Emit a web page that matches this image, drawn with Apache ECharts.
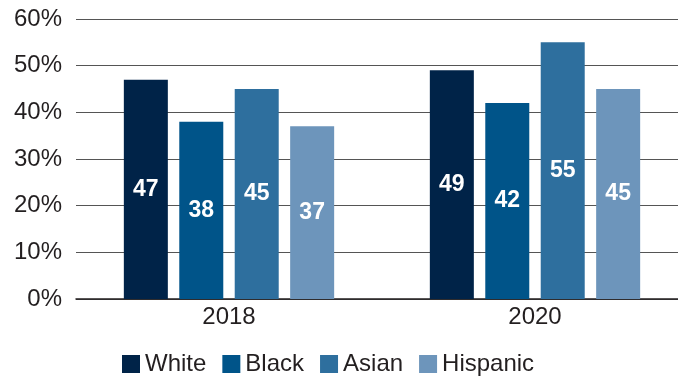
<!DOCTYPE html>
<html>
<head>
<meta charset="utf-8">
<script src="https://cdn.jsdelivr.net/npm/echarts@6/dist/echarts.min.js"></script>
<style>
  html, body { margin: 0; padding: 0; background: #fff; overflow: hidden; }
  /* canvas is a little wider than the window so the grid lines run off the right edge */
  #chart { width: 688px; height: 381px; }
</style>
</head>
<body>
<div id="chart"></div>
<script>
// Survey years on the category axis
const years = ['2018', '2020'];

// Share of each group, in percent
const seriesNames = ['White', 'Black', 'Asian', 'Hispanic'];
const white = [47, 49];
const black = [38, 42];
const asian = [45, 55];
const hispanic = [37, 45];

// Value axis ticks
const yMin = 0;
const yMax = 60;
const yStep = 10;

const colors = ['#002348', '#005489', '#2e6f9e', '#6d95bb'];
const values = [white, black, asian, hispanic];
const font = '"Liberation Sans", Arial, Helvetica, sans-serif';

const chart = echarts.init(document.getElementById('chart'), null, { renderer: 'canvas' });

chart.setOption({
  animation: false,
  textStyle: { fontFamily: font },
  grid: { left: 76, right: 0, top: 19, bottom: 82, containLabel: false },
  legend: {
    top: 352,
    left: 122,
    padding: 0,
    itemWidth: 18,
    itemHeight: 18,
    itemGap: 16,
    itemStyle: { borderWidth: 0 },
    icon: 'rect',
    textStyle: { fontSize: 24, color: '#231f20', fontFamily: font },
    data: seriesNames
  },
  xAxis: {
    type: 'category',
    data: years,
    axisTick: { show: false },
    axisLine: { lineStyle: { color: '#231f20', width: 1.5 } },
    axisLabel: { fontSize: 24, color: '#231f20', margin: 6 }
  },
  yAxis: {
    type: 'value',
    min: yMin,
    max: yMax,
    interval: yStep,
    axisLine: { show: false },
    axisTick: { show: false },
    axisLabel: { fontSize: 24, color: '#231f20', margin: 14, formatter: '{value}%' },
    splitLine: { lineStyle: { color: '#555', width: 1.2 } }
  },
  series: seriesNames.map((name, i) => ({
    name,
    type: 'bar',
    data: values[i],
    barWidth: 44,
    barGap: '26%',
    itemStyle: { color: colors[i] },
    label: {
      show: true,
      position: 'inside',
      color: '#fff',
      fontWeight: 'bold',
      fontSize: 23,
      fontFamily: font
    }
  }))
});
</script>
</body>
</html>
